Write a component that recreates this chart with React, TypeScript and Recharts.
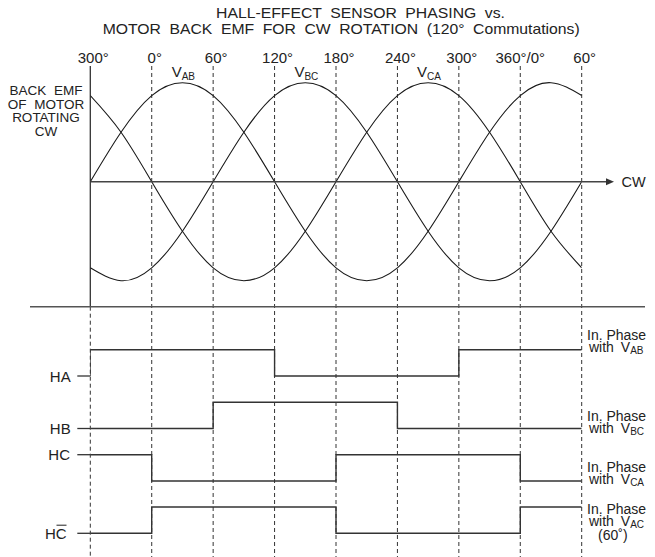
import React from 'react';
import { ComposedChart, Line, XAxis, YAxis, ReferenceLine } from 'recharts';

// electrical angle (deg) of the sample points, -60 = the "300°" at the left edge
const sineAngles = [-60, -30, 0, 30, 60, 90, 120, 150, 180, 210, 240, 270, 300, 330, 360, 390, 420];
// back EMF of each phase pair, normalised to the peak
const vab = [0, 0.5, 0.87, 1, 0.87, 0.5, 0, -0.5, -0.87, -1, -0.87, -0.5, 0, 0.5, 0.87, 1, 0.87];
const vbc = [-0.87, -1, -0.87, -0.5, 0, 0.5, 0.87, 1, 0.87, 0.5, 0, -0.5, -0.87, -1, -0.87, -0.5, 0];
const vca = [0.87, 0.5, 0, -0.5, -0.87, -1, -0.87, -0.5, 0, 0.5, 0.87, 1, 0.87, 0.5, 0, -0.5, -0.87];

// hall sensor edges (angle) and logic level after each edge
const haEdges = [-60, -60, 120, 300, 420];
const haLevels = [0, 1, 0, 1, 1];
const hbEdges = [-60, 60, 240, 420];
const hbLevels = [0, 1, 0, 0];
const hcEdges = [-60, 0, 180, 360, 420];
const hcLevels = [1, 0, 1, 0, 0];
const hcBarEdges = [-60, 0, 180, 360, 420];
const hcBarLevels = [0, 1, 0, 1, 1];

const tickValues = [-60, 0, 60, 120, 180, 240, 300, 360, 420];
const tickLabels = ['300°', '0°', '60°', '120°', '180°', '240°', '300°', '360°/0°', '60°'];

const W = 655;
const H = 557;
const X_LEFT = 90.3;
const X_RIGHT = 581.7;
const PLOT_TOP = 64;
const AXIS_Y = 181.7;
const AMP = 99;
const SWING = 26.3;
const FONT = '"Liberation Sans", Arial, Helvetica, sans-serif';
const INK = '#222';

const sineRows = (vals: number[]) => sineAngles.map((t, i) => ({ t, v: vals[i] }));
const stepRows = (edges: number[], levels: number[]) => edges.map((t, i) => ({ t, v: levels[i] }));

const waves = [
  { key: 'vab', rows: sineRows(vab) },
  { key: 'vbc', rows: sineRows(vbc) },
  { key: 'vca', rows: sineRows(vca) },
];

const hall = [
  { key: 'ha', rows: stepRows(haEdges, haLevels), low: 376 },
  { key: 'hb', rows: stepRows(hbEdges, hbLevels), low: 428.5 },
  { key: 'hc', rows: stepRows(hcEdges, hcLevels), low: 481 },
  { key: 'hcbar', rows: stepRows(hcBarEdges, hcBarLevels), low: 533.3 },
];

const AngleTick = (props: any) => {
  const { x, y, payload } = props;
  const label = tickLabels[tickValues.indexOf(payload.value)] ?? '';
  const dx = label.includes('/') ? 0 : 3;
  return (
    <text x={x + dx} y={y} textAnchor="middle" fontSize={15} fontFamily={FONT} fill={INK}>
      {label}
    </text>
  );
};

const Sub = ({ x, y, main, sub }: { x: number; y: number; main: string; sub: string }) => (
  <text x={x} y={y} fontSize={15} fontFamily={FONT} fill={INK}>
    <tspan>{main}</tspan>
    <tspan fontSize={10} dy={3}>{sub}</tspan>
  </text>
);

const PhaseNote = ({ y, sub, extra }: { y: number; sub: string; extra?: boolean }) => (
  <g fontFamily={FONT} fill={INK}>
    <text x={587} y={y} fontSize={14}>In. Phase</text>
    <text x={589} y={y + 12} fontSize={14} wordSpacing={3}>
      {'with V'}
      <tspan fontSize={10} dy={2}>{sub}</tspan>
    </text>
    {extra && (
      <text x={598} y={y + 26} fontSize={14}>(60˚)</text>
    )}
  </g>
);

function Overlay() {
  const sigLabels = [
    { text: 'HA', y: 376, right: 70.7 },
    { text: 'HB', y: 428.5, right: 70.7 },
    { text: 'HC', y: 454.7, right: 70 },
    { text: 'HC', y: 533.3, right: 66.7 },
  ];
  return (
    <svg width={W} height={H} style={{ position: 'absolute', left: 0, top: 0, pointerEvents: 'none' }}>
      <g fontFamily={FONT} fill={INK} fontSize={15} wordSpacing={4}>
        <text x={216} y={18.3} textLength={289} lengthAdjust="spacingAndGlyphs">HALL-EFFECT SENSOR PHASING vs.</text>
        <text x={102.7} y={34.3} textLength={477} lengthAdjust="spacingAndGlyphs">MOTOR BACK EMF FOR CW ROTATION (120° Commutations)</text>
      </g>
      <g fontFamily={FONT} fill={INK} fontSize={13.5} textAnchor="middle" wordSpacing={4}>
        <text x={46} y={95}>BACK EMF</text>
        <text x={46} y={108.5}>OF MOTOR</text>
        <text x={46} y={122}>ROTATING</text>
        <text x={46} y={135.5}>CW</text>
      </g>
      <Sub x={171.7} y={77.3} main="V" sub="AB" />
      <Sub x={294.4} y={77.3} main="V" sub="BC" />
      <Sub x={417} y={77.3} main="V" sub="CA" />
      {/* rotation axis with arrow */}
      <line x1={X_LEFT} x2={608} y1={AXIS_Y} y2={AXIS_Y} stroke="#444" strokeWidth={1.5} />
      <polygon points={`614,${AXIS_Y} 606,${AXIS_Y - 3.5} 606,${AXIS_Y + 3.5}`} fill="#333" />
      <text x={621.5} y={AXIS_Y + 5.5} fontSize={14.5} fontFamily={FONT} fill={INK}>CW</text>
      {/* separator between EMF and sensor sections */}
      <line x1={30} x2={645} y1={306.7} y2={306.7} stroke="#555" strokeWidth={1.5} />
      {sigLabels.map((s, i) => (
        <g key={i}>
          <text x={s.right} y={s.y + 5.5} textAnchor="end" fontSize={15} fontFamily={FONT} fill={INK}>{s.text}</text>
          <line x1={77.3} x2={X_LEFT} y1={s.y} y2={s.y} stroke="#333" strokeWidth={1.3} />
        </g>
      ))}
      {/* bar over the C of the inverted signal */}
      <line x1={56.5} x2={66.5} y1={525.2} y2={525.2} stroke={INK} strokeWidth={1} />
      <PhaseNote y={339.5} sub="AB" />
      <PhaseNote y={421} sub="BC" />
      <PhaseNote y={472} sub="CA" />
      <PhaseNote y={514} sub="AC" extra />
    </svg>
  );
}

export default function App() {
  return (
    <div style={{ position: 'absolute', left: 0, top: 0, width: W, height: H, background: '#fff' }}>
      <ComposedChart
        width={W}
        height={H}
        margin={{ top: 0, right: W - X_RIGHT, left: X_LEFT, bottom: 0 }}
      >
        <XAxis
          xAxisId={0}
          dataKey="t"
          type="number"
          orientation="top"
          domain={[-60, 420]}
          ticks={tickValues}
          interval={0}
          height={PLOT_TOP}
          axisLine={false}
          tickLine={false}
          tickSize={0}
          tickMargin={1}
          tick={<AngleTick />}
          allowDataOverflow
        />
        <YAxis yAxisId={0} type="number" domain={[PLOT_TOP, H]} reversed hide allowDataOverflow />
        {tickValues.slice(1).map((t) => (
          <ReferenceLine
            key={t}
            segment={[{ x: t, y: 66 }, { x: t, y: H }]}
            stroke="#333"
            strokeWidth={1}
            strokeDasharray="4 3"
            ifOverflow="visible"
          />
        ))}
        <ReferenceLine
          segment={[{ x: -60, y: 306.7 }, { x: -60, y: H }]}
          stroke="#333"
          strokeWidth={1}
          strokeDasharray="4 3"
          ifOverflow="visible"
        />
        <ReferenceLine
          segment={[{ x: -60, y: 66 }, { x: -60, y: 306.7 }]}
          stroke="#333"
          strokeWidth={1.3}
          ifOverflow="visible"
        />
        {waves.map((w) => (
          <Line
            key={w.key}
            data={w.rows}
            dataKey={(d: any) => AXIS_Y - d.v * AMP}
            type="natural"
            stroke="#1a1a1a"
            strokeWidth={1.1}
            dot={false}
            activeDot={false}
            isAnimationActive={false}
          />
        ))}
        {hall.map((h) => (
          <Line
            key={h.key}
            data={h.rows}
            dataKey={(d: any) => h.low - d.v * SWING}
            type="stepAfter"
            stroke="#333"
            strokeWidth={1.4}
            dot={false}
            activeDot={false}
            isAnimationActive={false}
          />
        ))}
      </ComposedChart>
      <Overlay />
    </div>
  );
}
